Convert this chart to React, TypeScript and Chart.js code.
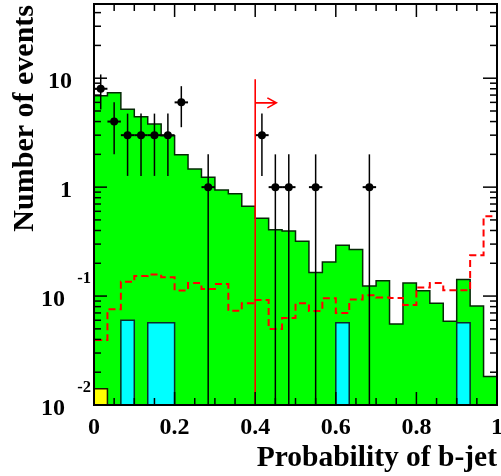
import React, { useEffect, useRef } from "react";
import { Chart, registerables } from "chart.js";

Chart.register(...registerables);

// ---- axis ranges / binning ----
const X_MIN = 0;
const X_MAX = 1;
const Y_MIN = 0.01;
const Y_MAX = 48;
const N_BINS = 30;

// ---- histogram contents (per bin, 30 bins from 0 to 1) ----
const greenValues = [
  6.9, 7.35, 5.2, 4.43, 3.8, 2.97, 1.98, 1.47, 1.23, 0.94,
  0.87, 0.666, 0.517, 0.407, 0.396, 0.318, 0.165, 0.206, 0.293, 0.267,
  0.1235, 0.138, 0.0555, 0.132, 0.112, 0.0857, 0.0587, 0.142, 0.081, 0.0183,
];
const redValues = [
  0.0395, 0.0755, 0.135, 0.1525, 0.158, 0.149, 0.1127, 0.132, 0.116, 0.129,
  0.0734, 0.0857, 0.092, 0.0499, 0.063, 0.0857, 0.073, 0.0953, 0.07, 0.093,
  0.102, 0.097, 0.096, 0.083, 0.12, 0.132, 0.113, 0.113, 0.237, 0.54,
];
const redUnderflow = 1.0;
const redOverflow = 0.89;
const cyanBins = [2, 4, 5, 18, 27];
const cyanValues = [0.06, 0.057, 0.057, 0.057, 0.057];
const yellowBins = [0];
const yellowValues = [0.0141];

// ---- data points ----
const dataBins = [0, 1, 2, 3, 4, 5, 6, 8, 12, 13, 14, 16, 20];
const dataCounts = [8, 4, 3, 3, 3, 3, 6, 1, 3, 1, 1, 1, 1];

// ---- cut marker ----
const cutValue = 0.4;
const cutTop = 9.8;
const arrowEnd = 0.4525;
const arrowLevel = 5.94;

// ---- ticks / labels ----
const xMajorTicks = [0, 0.2, 0.4, 0.6, 0.8, 1];
const xTickLabels = ["0", "0.2", "0.4", "0.6", "0.8", "1"];
const xMinorTicks = [0.05, 0.1, 0.15, 0.25, 0.3, 0.35, 0.45, 0.5, 0.55, 0.65, 0.7, 0.75, 0.85, 0.9, 0.95];
const yMajorTicks = [0.01, 0.1, 1, 10];
const yTickBase = ["10", "10", "1", "10"];
const yTickExp = ["-2", "-1", "", ""];
const yMinorMultipliers = [2, 3, 4, 5, 6, 7, 8, 9];
const yDecades = [0.01, 0.1, 1, 10];
const xTitle = "Probability of b-jet";
const yTitle = "Number of events";

const FONT = '"Liberation Serif", "Times New Roman", serif';

type Pt = { x: number; y: number };

function edge(i: number) {
  return X_MIN + ((X_MAX - X_MIN) * i) / N_BINS;
}

function stepRuns(bins: number[], values: number[], base: number): Pt[][] {
  const runs: Pt[][] = [];
  let cur: Pt[] | null = null;
  let prev = -10;
  bins.forEach((b, k) => {
    if (!cur || b !== prev + 1) {
      cur = [{ x: edge(b), y: base }];
      runs.push(cur);
    }
    cur.push({ x: edge(b), y: values[k] }, { x: edge(b + 1), y: values[k] });
    prev = b;
  });
  runs.forEach((r) => {
    const last = r[r.length - 1];
    r.push({ x: last.x, y: base });
  });
  return runs;
}

const overlay = {
  id: "overlay",
  afterDatasetsDraw(chart: any) {
    const { ctx, chartArea: a } = chart;
    const xs = chart.scales.x;
    const ys = chart.scales.y;
    ctx.save();
    ctx.beginPath();
    ctx.rect(a.left, a.top, a.right - a.left, a.bottom - a.top);
    ctx.clip();
    // error bars
    ctx.strokeStyle = "#000";
    dataBins.forEach((b, k) => {
      const n = dataCounts[k];
      const err = Math.sqrt(n);
      const xc = xs.getPixelForValue((edge(b) + edge(b + 1)) / 2);
      const lo = Math.max(n - err, Y_MIN);
      const hi = n + err;
      ctx.lineWidth = 1.5;
      ctx.beginPath();
      ctx.moveTo(xc, ys.getPixelForValue(lo));
      ctx.lineTo(xc, ys.getPixelForValue(hi));
      ctx.stroke();
      ctx.lineWidth = 2;
      const yc = ys.getPixelForValue(n);
      ctx.beginPath();
      ctx.moveTo(xs.getPixelForValue(edge(b)), yc);
      ctx.lineTo(xs.getPixelForValue(edge(b + 1)), yc);
      ctx.stroke();
    });
    // cut line and arrow
    ctx.strokeStyle = "#ff0000";
    ctx.lineWidth = 1.6;
    const cx = xs.getPixelForValue(cutValue);
    ctx.beginPath();
    ctx.moveTo(cx, ys.getPixelForValue(Y_MIN));
    ctx.lineTo(cx, ys.getPixelForValue(cutTop));
    ctx.stroke();
    const ay = ys.getPixelForValue(arrowLevel);
    const tx = xs.getPixelForValue(arrowEnd);
    ctx.beginPath();
    ctx.moveTo(cx, ay);
    ctx.lineTo(tx, ay);
    ctx.moveTo(tx - 9, ay - 5);
    ctx.lineTo(tx, ay);
    ctx.lineTo(tx - 9, ay + 5);
    ctx.stroke();
    ctx.restore();
  },
  afterDraw(chart: any) {
    const { ctx, chartArea: a } = chart;
    const xs = chart.scales.x;
    const ys = chart.scales.y;
    ctx.save();
    ctx.strokeStyle = "#000";
    // ticks
    ctx.lineWidth = 1.5;
    const tick = (x1: number, y1: number, x2: number, y2: number) => {
      ctx.beginPath();
      ctx.moveTo(x1, y1);
      ctx.lineTo(x2, y2);
      ctx.stroke();
    };
    xMajorTicks.forEach((v) => {
      const x = xs.getPixelForValue(v);
      tick(x, a.bottom, x, a.bottom - 13);
      tick(x, a.top, x, a.top + 13);
    });
    xMinorTicks.forEach((v) => {
      const x = xs.getPixelForValue(v);
      tick(x, a.bottom, x, a.bottom - 7);
      tick(x, a.top, x, a.top + 7);
    });
    yMajorTicks.forEach((v) => {
      const y = ys.getPixelForValue(v);
      tick(a.left, y, a.left + 13, y);
      tick(a.right, y, a.right - 14, y);
    });
    yDecades.forEach((d) => {
      yMinorMultipliers.forEach((m) => {
        const v = m * d;
        if (v > Y_MAX) return;
        const y = ys.getPixelForValue(v);
        tick(a.left, y, a.left + 7, y);
        tick(a.right, y, a.right - 7, y);
      });
    });
    // frame
    ctx.lineWidth = 2;
    ctx.strokeRect(a.left, a.top, a.right - a.left, a.bottom - a.top);

    // labels
    ctx.fillStyle = "#000";
    ctx.textBaseline = "alphabetic";
    ctx.font = `bold 24px ${FONT}`;
    ctx.textAlign = "center";
    xMajorTicks.forEach((v, i) => {
      ctx.fillText(xTickLabels[i], xs.getPixelForValue(v), a.bottom + 28.5);
    });
    yMajorTicks.forEach((v, i) => {
      const y = ys.getPixelForValue(v);
      ctx.textAlign = "right";
      if (yTickExp[i]) {
        ctx.font = `bold 24px ${FONT}`;
        ctx.fillText(yTickBase[i], a.left - 29, y + 9.5);
        ctx.font = `bold 16.5px ${FONT}`;
        ctx.fillText(yTickExp[i], a.left - 3, y - 13);
      } else {
        ctx.font = `bold 24px ${FONT}`;
        ctx.fillText(yTickBase[i], a.left - 22, y + 9.5);
      }
    });
    // titles
    ctx.font = `bold 29.5px ${FONT}`;
    ctx.textAlign = "right";
    ctx.fillText(xTitle, a.right, 466);
    ctx.save();
    ctx.translate(33, 5);
    ctx.rotate(-Math.PI / 2);
    ctx.font = `bold 30px ${FONT}`;
    ctx.textAlign = "right";
    ctx.fillText(yTitle, 0, 0);
    ctx.restore();
    ctx.restore();
  },
};

export default function App() {
  const ref = useRef<HTMLCanvasElement | null>(null);
  useEffect(() => {
    if (!ref.current) return;
    const datasets: any[] = [];

    // data points
    datasets.push({
      data: dataBins.map((b, k) => ({ x: (edge(b) + edge(b + 1)) / 2, y: dataCounts[k] })),
      showLine: false,
      pointRadius: 4,
      pointBackgroundColor: "#000",
      pointBorderColor: "#000",
      pointBorderWidth: 0,
      order: 0,
    });

    // red dashed histogram
    const redPts: Pt[] = [{ x: edge(0), y: redUnderflow }];
    redValues.forEach((v, i) => {
      redPts.push({ x: edge(i), y: v }, { x: edge(i + 1), y: v });
    });
    redPts.push({ x: edge(N_BINS), y: redOverflow });
    datasets.push({
      data: redPts,
      borderColor: "#ff0000",
      borderWidth: 2,
      borderDash: [7, 4],
      pointRadius: 0,
      fill: false,
      tension: 0,
      order: 1,
    });

    // cyan
    stepRuns(cyanBins, cyanValues, Y_MIN).forEach((run) => {
      datasets.push({
        data: run,
        borderColor: "#0b2b2b",
        borderWidth: 1.5,
        backgroundColor: "#00ffff",
        fill: "start",
        pointRadius: 0,
        tension: 0,
        order: 2,
      });
    });
    // yellow
    stepRuns(yellowBins, yellowValues, Y_MIN).forEach((run) => {
      datasets.push({
        data: run,
        borderColor: "#1a1a00",
        borderWidth: 1.5,
        backgroundColor: "#ffff00",
        fill: "start",
        pointRadius: 0,
        tension: 0,
        order: 2,
      });
    });
    // green
    stepRuns(greenValues.map((_, i) => i), greenValues, Y_MIN).forEach((run) => {
      datasets.push({
        data: run,
        borderColor: "#062806",
        borderWidth: 1.5,
        backgroundColor: "#00ff00",
        fill: "start",
        pointRadius: 0,
        tension: 0,
        order: 3,
      });
    });

    const chart = new Chart(ref.current, {
      type: "line",
      data: { datasets },
      options: {
        animation: false,
        responsive: false,
        devicePixelRatio: 1,
        layout: { padding: { left: 94, right: 4, top: 3, bottom: 71 } },
        scales: {
          x: { type: "linear", min: X_MIN, max: X_MAX, display: false },
          y: { type: "logarithmic", min: Y_MIN, max: Y_MAX, display: false },
        },
        plugins: {
          legend: { display: false },
          tooltip: { enabled: false },
        },
      },
      plugins: [overlay],
    } as any);
    return () => chart.destroy();
  }, []);

  return (
    <div style={{ position: "absolute", left: 0, top: 0, width: 501, height: 476, background: "#fff" }}>
      <canvas ref={ref} width={501} height={476} style={{ display: "block" }} />
    </div>
  );
}
